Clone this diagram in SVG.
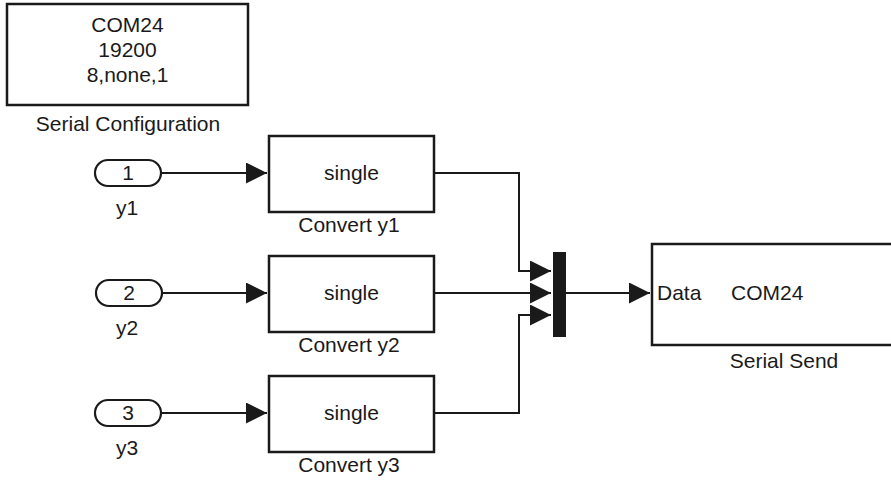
<svg xmlns="http://www.w3.org/2000/svg" width="891" height="482" viewBox="0 0 891 482">
  <defs>
    <style>
      .blk { fill: #ffffff; stroke: #1a1a1a; stroke-width: 2.5; }
      .port { fill: #ffffff; stroke: #1a1a1a; stroke-width: 2.2; }
      .wire { fill: none; stroke: #1a1a1a; stroke-width: 2; }
      .head { fill: #1a1a1a; stroke: none; }
      .t { font-family: "Liberation Sans", Arial, sans-serif; font-size: 21px; fill: #1a1a1a; }
      .c { text-anchor: middle; }
    </style>
    <marker id="arr" viewBox="0 0 21 21" refX="21" refY="10.5" markerWidth="21" markerHeight="21" markerUnits="userSpaceOnUse" orient="auto">
      <path class="head" d="M0,0 L21,10.5 L0,21 Z"/>
    </marker>
  </defs>
  <rect width="891" height="482" fill="#ffffff"/>

  <!-- connectors -->
  <g id="connectors">
    <path class="wire" d="M161,173 H267" marker-end="url(#arr)"/>
    <path class="wire" d="M162,293 H267" marker-end="url(#arr)"/>
    <path class="wire" d="M161,413 H267" marker-end="url(#arr)"/>
    <path class="wire" d="M434,173 H519 V271 H551" marker-end="url(#arr)"/>
    <path class="wire" d="M434,293 H551" marker-end="url(#arr)"/>
    <path class="wire" d="M434,413 H519 V315 H551" marker-end="url(#arr)"/>
    <path class="wire" d="M566,293 H650" marker-end="url(#arr)"/>
  </g>

  <!-- serial configuration block -->
  <g id="serial-config">
    <rect class="blk" x="7" y="4" width="241" height="101"/>
    <text class="t c" x="127.5" y="32">COM24</text>
    <text class="t c" x="127.5" y="57">19200</text>
    <text class="t c" x="127.5" y="82">8,none,1</text>
    <text class="t c" x="128" y="131">Serial Configuration</text>
  </g>

  <!-- inports -->
  <g id="in-y1">
    <rect class="port" x="95" y="160" width="66" height="26" rx="13"/>
    <text class="t c" x="128" y="180">1</text>
    <text class="t c" x="127" y="215">y1</text>
  </g>
  <g id="in-y2">
    <rect class="port" x="96" y="280" width="66" height="26" rx="13"/>
    <text class="t c" x="129" y="300">2</text>
    <text class="t c" x="127" y="335">y2</text>
  </g>
  <g id="in-y3">
    <rect class="port" x="95" y="400" width="66" height="26" rx="13"/>
    <text class="t c" x="128" y="420">3</text>
    <text class="t c" x="127" y="455">y3</text>
  </g>

  <!-- data type conversion blocks -->
  <g id="convert-y1">
    <rect class="blk" x="269" y="136" width="165" height="76"/>
    <text class="t c" x="351.5" y="180">single</text>
    <text class="t c" x="349" y="232">Convert y1</text>
  </g>
  <g id="convert-y2">
    <rect class="blk" x="269" y="256" width="165" height="76"/>
    <text class="t c" x="351.5" y="300">single</text>
    <text class="t c" x="349" y="352">Convert y2</text>
  </g>
  <g id="convert-y3">
    <rect class="blk" x="269" y="376" width="165" height="76"/>
    <text class="t c" x="351.5" y="420">single</text>
    <text class="t c" x="349" y="472">Convert y3</text>
  </g>

  <!-- mux -->
  <g id="mux">
    <rect x="553" y="252" width="13" height="85" fill="#1a1a1a"/>
  </g>

  <!-- serial send block -->
  <g id="serial-send">
    <rect class="blk" x="652" y="244" width="264" height="101"/>
    <text class="t" x="657" y="300">Data</text>
    <text class="t" x="731" y="300">COM24</text>
    <text class="t c" x="784" y="368">Serial Send</text>
  </g>
</svg>
